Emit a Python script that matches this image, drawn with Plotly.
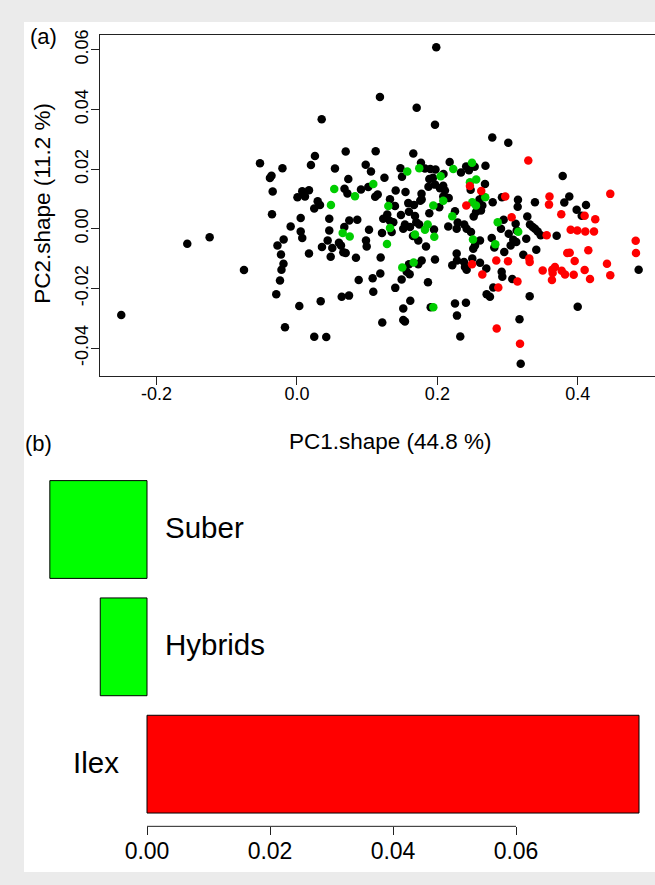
import plotly.graph_objects as go

# ---- panel (a): PCA scores (PC1.shape, PC2.shape) ----
black_points = [
    (-0.0527, 0.0220), (-0.0207, 0.0203), (-0.0363, 0.0178), (-0.0385, 0.0170), (-0.0346, 0.0125),
    (-0.0356, 0.0049), (-0.1563, -0.0050), (-0.1244, -0.0028), (-0.0190, -0.0036), (-0.0278, -0.0056),
    (-0.0228, -0.0086), (-0.0192, -0.0117), (-0.0221, -0.0137), (-0.0755, -0.0138), (-0.0242, -0.0173),
    (-0.0295, -0.0219), (-0.2503, -0.0289), (-0.0171, -0.0330),
    (0.1182, 0.0442), (0.0352, 0.0367), (0.0256, 0.0244), (0.0199, 0.0214), (0.0694, 0.0259),
    (0.1121, 0.0260), (0.0541, 0.0202), (0.0979, 0.0215), (0.1054, 0.0192), (0.0731, 0.0167),
    (0.1246, 0.0171), (0.1474, 0.0203), (0.1016, 0.0140), (0.0912, 0.0132), (0.0677, 0.0134),
    (0.0719, 0.0118), (0.1150, 0.0115), (0.1114, 0.0107), (0.1406, 0.0128), (0.1325, 0.0099),
    (0.0171, 0.0129), (0.0075, 0.0126), (0.0114, 0.0108), (0.0007, 0.0106), (0.0295, 0.0092),
    (0.0328, 0.0080), (0.0246, 0.0068), (0.1396, 0.0076),
    (0.0053, 0.0036), (-0.0090, 0.0008), (0.0053, -0.0009), (0.0075, -0.0031), (0.0460, 0.0034),
    (0.0460, -0.0006), (0.0437, -0.0039), (0.0356, -0.0061), (0.0503, -0.0064), (0.0480, -0.0094),
    (0.0171, -0.0083), (0.0745, 0.0028), (0.0859, 0.0030), (0.0674, 0.0006), (0.0598, -0.0047),
    (0.0627, -0.0056), (0.0660, -0.0079), (0.0694, -0.0081), (0.0840, -0.0097), (0.1026, -0.0003),
    (0.0983, -0.0039), (0.0993, -0.0059), (0.1211, -0.0014), (0.1229, 0.0034), (0.1286, 0.0048),
    (0.1325, 0.0026), (0.1372, 0.0022), (0.1349, -0.0011), (0.1192, -0.0096), (0.0879, -0.0172),
    (0.1078, -0.0166), (0.1187, -0.0150), (0.1087, -0.0211), (0.1400, -0.0198), (0.0637, -0.0228),
    (0.0741, -0.0224), (0.0338, -0.0243), (0.0033, -0.0259), (0.0246, -0.0362), (0.0417, -0.0363),
    (0.1215, -0.0314),
    (0.1984, 0.0608), (0.1705, 0.0406), (0.1966, 0.0349), (0.2782, 0.0306), (0.3010, 0.0288),
    (0.1657, 0.0252), (0.1766, 0.0221), (0.1496, 0.0174), (0.1823, 0.0202), (0.1899, 0.0200),
    (0.1973, 0.0199), (0.1885, 0.0167), (0.1937, 0.0171), (0.2087, 0.0184), (0.2175, 0.0224),
    (0.2336, 0.0189), (0.2410, 0.0209), (0.2531, 0.0208), (0.2450, 0.0196), (0.2685, 0.0211),
    (0.2678, 0.0150), (0.1873, 0.0141), (0.1966, 0.0148), (0.2037, 0.0136), (0.2083, 0.0144),
    (0.1546, 0.0123), (0.1774, 0.0117), (0.1776, 0.0098), (0.2108, 0.0128), (0.2084, 0.0108),
    (0.2161, 0.0103), (0.2474, 0.0131), (0.2650, 0.0108), (0.2600, 0.0098), (0.2920, 0.0106),
    (0.2788, 0.0089), (0.3148, 0.0097), (0.1585, 0.0086), (0.1667, 0.0080), (0.1756, 0.0094),
    (0.2640, 0.0078), (0.2027, 0.0072),
    (0.1481, 0.0046), (0.1595, 0.0057), (0.1681, 0.0043), (0.1699, 0.0022), (0.1538, 0.0014),
    (0.1514, 0.0000), (0.1610, 0.0006), (0.1742, 0.0014), (0.1652, -0.0024), (0.1728, -0.0039),
    (0.1885, 0.0052), (0.1952, -0.0002), (0.1838, -0.0059), (0.2251, 0.0059), (0.2155, 0.0008),
    (0.2275, 0.0000), (0.2289, 0.0021), (0.2383, 0.0014), (0.2417, 0.0000), (0.2479, -0.0011),
    (0.2517, 0.0041), (0.2550, 0.0056), (0.2621, 0.0061), (0.2607, -0.0039), (0.2536, -0.0056),
    (0.2511, -0.0067), (0.2774, -0.0031), (0.2811, -0.0063), (0.2906, 0.0000), (0.2944, 0.0030),
    (0.3115, 0.0017), (0.3130, -0.0006), (0.3016, -0.0017), (0.3081, -0.0037), (0.3044, -0.0056),
    (0.3124, -0.0044), (0.2953, -0.0078), (0.2275, -0.0083), (0.2279, -0.0106), (0.2212, -0.0122),
    (0.2379, -0.0111), (0.2497, -0.0100), (0.2393, -0.0128), (0.2417, -0.0137), (0.2607, -0.0114),
    (0.2697, -0.0133), (0.2916, -0.0144), (0.2925, -0.0161), (0.3067, -0.0168), (0.2796, -0.0197),
    (0.2702, -0.0219), (0.2749, -0.0228), (0.1966, -0.0103), (0.1776, -0.0106), (0.1728, -0.0119),
    (0.1595, -0.0119), (0.1563, -0.0144), (0.1605, -0.0152), (0.1491, -0.0170), (0.1866, -0.0179),
    (0.1614, -0.0241), (0.1514, -0.0267), (0.1905, -0.0263), (0.2251, -0.0250), (0.2407, -0.0248),
    (0.2279, -0.0291), (0.1514, -0.0306), (0.1538, -0.0311), (0.2326, -0.0361), (0.3170, -0.0303),
    (0.3187, -0.0452),
    (0.3785, 0.0177), (0.3144, 0.0074), (0.3390, 0.0089), (0.3879, 0.0108), (0.3808, 0.0088),
    (0.3984, 0.0064), (0.4117, 0.0080), (0.4056, 0.0044), (0.3281, 0.0041), (0.3319, 0.0014),
    (0.3358, 0.0006), (0.3390, 0.0000), (0.3429, -0.0009), (0.3472, -0.0022), (0.3699, -0.0023),
    (0.3266, -0.0033), (0.3409, -0.0070), (0.3224, -0.0087), (0.4867, -0.0137), (0.3315, -0.0226),
    (0.3999, -0.0261),
]

green_points = [
    (0.1087, 0.0150), (0.0531, 0.0133), (0.0826, 0.0109), (0.0484, 0.0080), (0.1301, 0.0076),
    (0.0651, -0.0014), (0.0751, -0.0026), (0.1325, 0.0003), (0.1282, -0.0051), (0.1571, 0.0192),
    (0.1742, 0.0203), (0.2047, 0.0176), (0.2226, 0.0200), (0.2493, 0.0221), (0.2553, 0.0165),
    (0.2464, 0.0156), (0.2682, 0.0106), (0.1942, 0.0078), (0.2084, 0.0094), (0.2497, 0.0089),
    (0.2550, 0.0078), (0.1862, 0.0014), (0.1823, -0.0003), (0.1681, -0.0019), (0.1956, -0.0027),
    (0.2212, 0.0042), (0.2507, -0.0036), (0.2825, -0.0052), (0.2859, 0.0022), (0.1662, -0.0113),
    (0.1500, -0.0130), (0.1942, -0.0263), (0.3152, -0.0010),
]

red_points = [
    (0.2464, 0.0143), (0.2625, 0.0127), (0.2967, 0.0108), (0.2412, 0.0078), (0.3295, 0.0229),
    (0.3058, 0.0039), (0.2493, -0.0119), (0.2640, -0.0153), (0.2839, -0.0106), (0.3006, -0.0109),
    (0.3141, -0.0177), (0.2868, -0.0197), (0.2845, -0.0334), (0.3177, -0.0385), (0.4463, 0.0117),
    (0.3597, 0.0108), (0.3590, 0.0081), (0.4098, 0.0044), (0.4249, 0.0032), (0.3765, 0.0049),
    (0.3557, -0.0022), (0.3899, -0.0003), (0.3993, -0.0006), (0.4107, -0.0009), (0.4231, -0.0009),
    (0.4825, -0.0040), (0.4829, -0.0081), (0.4150, -0.0072), (0.3850, -0.0081), (0.3885, -0.0080),
    (0.3956, -0.0108), (0.3309, -0.0100), (0.3315, -0.0111), (0.3500, -0.0140), (0.3637, -0.0137),
    (0.3675, -0.0128), (0.3642, -0.0148), (0.3632, -0.0172), (0.3771, -0.0141), (0.3818, -0.0153),
    (0.3942, -0.0154), (0.4098, -0.0138), (0.4174, -0.0168), (0.4416, -0.0117), (0.4463, -0.0156),
]

pc1_ticks = [-0.2, 0.0, 0.2, 0.4]
pc1_ticklabels = ["-0.2", "0.0", "0.2", "0.4"]
pc2_ticks = [-0.04, -0.02, 0.0, 0.02, 0.04, 0.06]
pc2_ticklabels = ["-0.04", "-0.02", "0.00", "0.02", "0.04", "0.06"]

# ---- panel (b): bar values ----
bar_groups = ["Ilex", "Hybrids", "Suber"]
bar_values = [0.0800, -0.0076, -0.0158]
bar_colors = ["#ff0000", "#00ff00", "#00ff00"]
bar_ticks = [0.00, 0.02, 0.04, 0.06]
bar_ticklabels = ["0.00", "0.02", "0.04", "0.06"]

FONT = "Liberation Sans, Arial, Helvetica, sans-serif"
W, H = 655, 885


def px_x(p):
    return p / W


def px_y(p):
    return 1 - p / H


fig = go.Figure()

for pts, col in [(black_points, "#000000"), (green_points, "#00cd00"), (red_points, "#ff0000")]:
    fig.add_trace(go.Scatter(
        x=[p[0] for p in pts], y=[p[1] for p in pts], mode="markers",
        marker=dict(color=col, size=8.5, line=dict(width=0)),
        xaxis="x", yaxis="y", showlegend=False, hoverinfo="skip", cliponaxis=True,
    ))

fig.add_trace(go.Bar(
    y=bar_groups, x=bar_values, orientation="h",
    marker=dict(color=bar_colors, line=dict(color="#000000", width=1)),
    xaxis="x2", yaxis="y2", showlegend=False, hoverinfo="skip",
))

axis_col = "#222222"
fig.update_layout(
    width=W, height=H, autosize=False,
    margin=dict(l=0, r=0, t=0, b=0, pad=0),
    paper_bgcolor="#ebebeb", plot_bgcolor="white",
    font=dict(family=FONT, color="#000000"),
    bargap=1 / 6,
    xaxis=dict(
        domain=[px_x(100), 1.0], range=[-0.2806, 0.5100], anchor="y",
        tickmode="array", tickvals=pc1_ticks, ticktext=pc1_ticklabels,
        ticks="outside", ticklen=8, tickwidth=1, tickcolor=axis_col,
        showline=True, mirror=True, linecolor=axis_col, linewidth=1,
        showgrid=False, zeroline=False, tickfont=dict(size=18, family=FONT),
        ticklabelstandoff=-6,
    ),
    yaxis=dict(
        domain=[px_y(373), px_y(30)], range=[-0.0493, 0.065], anchor="x",
        tickmode="array", tickvals=pc2_ticks, ticktext=pc2_ticklabels, tickangle=-90,
        ticks="outside", ticklen=8, tickwidth=1, tickcolor=axis_col,
        showline=True, mirror=False, linecolor=axis_col, linewidth=1,
        showgrid=False, zeroline=False, tickfont=dict(size=18, family=FONT),
        ticklabelstandoff=-4,
    ),
    xaxis2=dict(
        domain=[px_x(40), 1.0], range=[(40 - 147) / 6150, (655 - 147) / 6150], anchor="y2",
        tickmode="array", tickvals=bar_ticks, ticktext=bar_ticklabels,
        ticks="outside", ticklen=8, tickwidth=1, tickcolor=axis_col,
        showline=False, showgrid=False, zeroline=False, tickfont=dict(size=23, family=FONT),
        ticklabelstandoff=-4,
    ),
    yaxis2=dict(
        domain=[px_y(826), px_y(460)], range=[-0.530, 2.572], anchor="x2",
        type="category", categoryorder="array", categoryarray=bar_groups,
        visible=False, showgrid=False,
    ),
)

shapes = [
    dict(type="rect", xref="paper", yref="paper", x0=px_x(24), x1=1.0, y0=px_y(872), y1=px_y(17),
         fillcolor="white", line=dict(width=0), layer="below"),
    dict(type="line", xref="x2", yref="y2 domain", x0=min(bar_ticks), x1=max(bar_ticks), y0=0, y1=0,
         line=dict(color=axis_col, width=1)),
]
fig.update_layout(shapes=shapes)

annotations = [
    dict(text="(a)", x=px_x(43), y=px_y(32), xref="paper", yref="paper", showarrow=False,
         xanchor="center", yanchor="middle", font=dict(size=22, family=FONT)),
    dict(text="(b)", x=px_x(38), y=px_y(441), xref="paper", yref="paper", showarrow=False,
         xanchor="center", yanchor="middle", font=dict(size=22, family=FONT)),
    dict(text="PC2.shape (11.2 %)", x=px_x(43), y=px_y(200), xref="paper", yref="paper",
         showarrow=False, textangle=-90, xanchor="center", yanchor="middle",
         font=dict(size=22.5, family=FONT)),
    dict(text="PC1.shape (44.8 %)", x=px_x(391), y=px_y(439), xref="paper", yref="paper",
         showarrow=False, xanchor="center", yanchor="middle", font=dict(size=22.5, family=FONT)),
]
for g, v in zip(bar_groups, bar_values):
    annotations.append(dict(
        text=g, x=0, y=g, xref="x2", yref="y2", showarrow=False,
        xanchor="left" if v < 0 else "right", xshift=16 if v < 0 else -26,
        yanchor="middle", yshift=2, font=dict(size=29.5, family=FONT),
    ))
fig.update_layout(annotations=annotations)

fig.write_html("out.html")
